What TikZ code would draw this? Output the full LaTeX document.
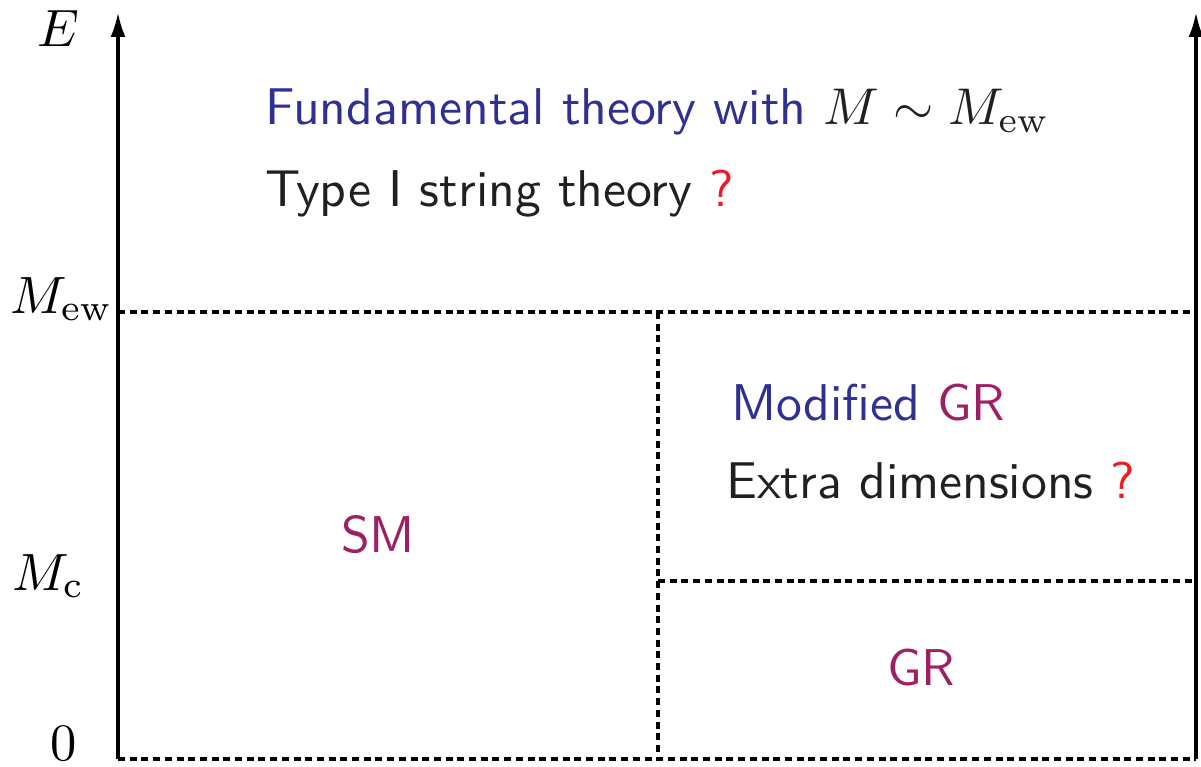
\documentclass[tikz,border=0pt]{standalone}
\usetikzlibrary{arrows.meta}
\definecolor{tblue}{RGB}{46,49,146}
\definecolor{tpurple}{RGB}{158,31,99}
\definecolor{tred}{RGB}{237,28,36}
\definecolor{tblack}{RGB}{35,31,32}
\newcommand{\Sz}[1]{\scalebox{5.17}{#1}}
\newcommand{\Sm}[1]{\scalebox{5.25}{#1}}
\begin{document}
\begin{tikzpicture}[x=1pt,y=-1pt,
  axis/.style={line width=3.6pt,-{Latex[length=25pt,width=15pt]}},
  dline/.style={line width=3.6pt,dash pattern=on 7pt off 4.7pt},
  lab/.style={anchor=base west,inner sep=0pt},
  txt/.style={anchor=base west,inner sep=0pt,font=\sffamily,text=tblack}]
\useasboundingbox (0,0) rectangle (1201,767);
% coordinates
\coordinate (O) at (118,759);
\coordinate (Otop) at (118,12);
\coordinate (R) at (1196,759);
\coordinate (Rtop) at (1196,12);
\coordinate (ewL) at (118,312);
\coordinate (ewR) at (1196,312);
\coordinate (midT) at (658,312);
\coordinate (midB) at (658,759);
\coordinate (cL) at (658,581);
\coordinate (cR) at (1196,581);
% dashed lines
\draw[dline] (ewL) -- (ewR);
\draw[dline] (O) -- (R);
\draw[dline] (midT) -- (midB);
\draw[dline] (cL) -- (cR);
% axes
\draw[axis] (O) -- (Otop);
\draw[axis] (R) -- (Rtop);
% axis labels
\node[lab] (E) at (37,47) {\Sm{$E$}};
\node[lab] (Mew) at (10,313) {\Sm{$M_{\mathrm{ew}}$}};
\node[lab] (Mc) at (12,590) {\Sm{$M_{\mathrm{c}}$}};
\node[lab] (zero) at (50,760) {\Sm{$0$}};
% texts
\node[txt] (fund) at (265,125) {\Sz{\textcolor{tblue}{Fundamental theory with} $M\sim M_{\mathrm{ew}}$}};
\node[txt] (type) at (265,207) {\Sz{Type I string theory \textcolor{tred}{?}}};
\node[txt] (mod) at (731,420) {\Sz{\textcolor{tblue}{Modified} \textcolor{tpurple}{GR}}};
\node[txt] (extra) at (726,498) {\Sz{Extra dimensions \textcolor{tred}{?}}};
\node[txt,anchor=base] (SM) at (378,552) {\Sz{\textcolor{tpurple}{SM}}};
\node[txt,anchor=base] (GR) at (921,685) {\Sz{\textcolor{tpurple}{GR}}};
\end{tikzpicture}
\end{document}
